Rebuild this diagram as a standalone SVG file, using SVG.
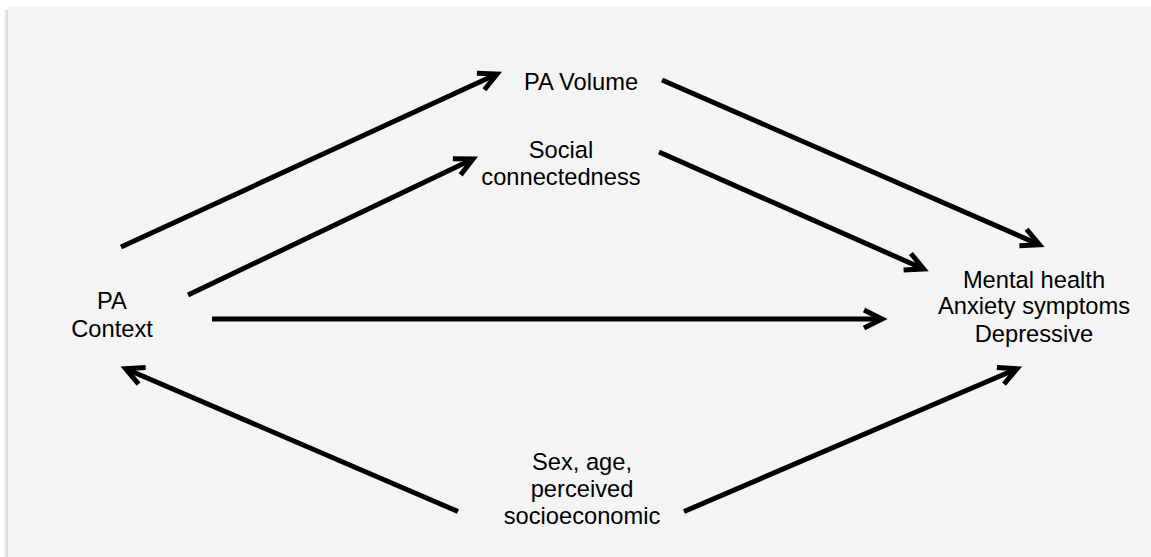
<svg xmlns="http://www.w3.org/2000/svg" width="1151" height="557" viewBox="0 0 1151 557">
  <defs>
    <style>
      .lbl { font-family: "Liberation Sans", Arial, sans-serif; font-size: 23.7px; fill: #000; text-anchor: middle; }
      .edge { stroke: #000; stroke-width: 5; fill: none; marker-end: url(#head); }
    </style>
    <marker id="head" markerUnits="userSpaceOnUse" viewBox="-24 -14 30 28" refX="0" refY="0" markerWidth="30" markerHeight="28" orient="auto">
      <path d="M-18,-9 L0,0 L-18,9" fill="none" stroke="#000" stroke-width="5" stroke-linejoin="miter" stroke-linecap="butt"/>
    </marker>
    <linearGradient id="shadowL" x1="0" y1="0" x2="1" y2="0">
      <stop offset="0" stop-color="#ffffff"/>
      <stop offset="1" stop-color="#d6d6d6"/>
    </linearGradient>
    <linearGradient id="shadowT" x1="0" y1="0" x2="0" y2="1">
      <stop offset="0" stop-color="#ffffff"/>
      <stop offset="1" stop-color="#ececec"/>
    </linearGradient>
  </defs>
  <rect x="0" y="0" width="1151" height="557" fill="#ffffff"/>
  <rect x="3" y="10" width="5" height="547" fill="url(#shadowL)"/>
  <rect x="8" y="6" width="1143" height="2" fill="url(#shadowT)"/>
  <rect x="8" y="8" width="1143" height="549" fill="#f4f4f4"/>

  <g id="connectors">
    <line class="edge" x1="121" y1="247" x2="497" y2="74"/>
    <line class="edge" x1="188" y1="295" x2="473" y2="159"/>
    <line class="edge" x1="212" y1="319" x2="882" y2="319"/>
    <line class="edge" x1="662" y1="80" x2="1039.5" y2="244.7"/>
    <line class="edge" x1="659" y1="152" x2="923.7" y2="269"/>
    <line class="edge" x1="458" y1="511.5" x2="125.6" y2="368.7"/>
    <line class="edge" x1="684" y1="511.5" x2="1017" y2="368.7"/>
  </g>

  <g id="node-pa-context">
    <text class="lbl" x="112" y="309">PA</text>
    <text class="lbl" x="112" y="336.5">Context</text>
  </g>
  <g id="node-pa-volume">
    <text class="lbl" x="581" y="90">PA Volume</text>
  </g>
  <g id="node-social">
    <text class="lbl" x="561" y="158">Social</text>
    <text class="lbl" x="561" y="185">connectedness</text>
  </g>
  <g id="node-mental-health">
    <text class="lbl" x="1034" y="287.5">Mental health</text>
    <text class="lbl" x="1034" y="314">Anxiety symptoms</text>
    <text class="lbl" x="1034" y="341.5">Depressive</text>
  </g>
  <g id="node-covariates">
    <text class="lbl" x="582" y="470">Sex, age,</text>
    <text class="lbl" x="582" y="497">perceived</text>
    <text class="lbl" x="582" y="524">socioeconomic</text>
  </g>
</svg>
